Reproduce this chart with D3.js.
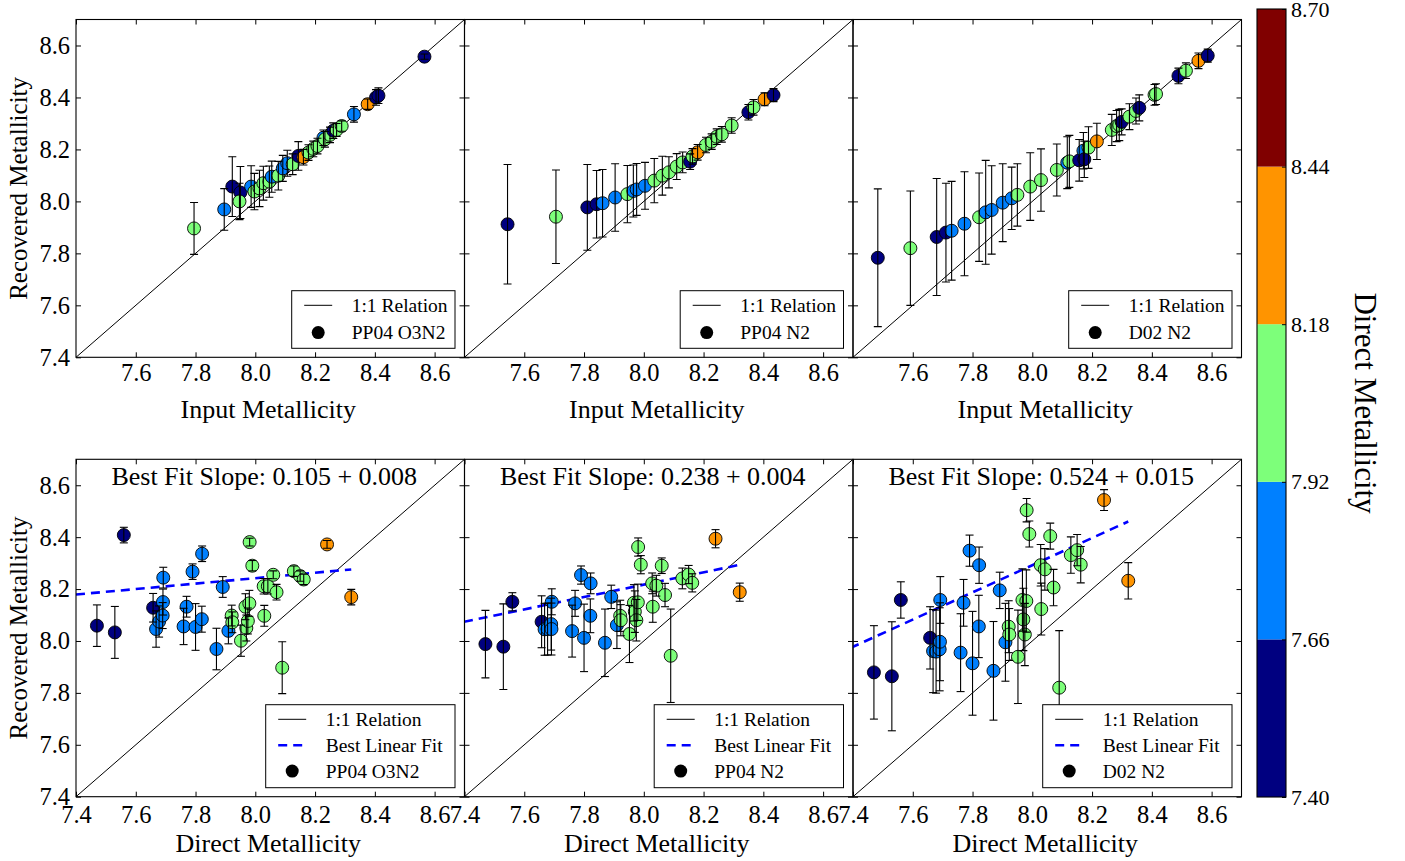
<!DOCTYPE html>
<html>
<head>
<meta charset="utf-8">
<script src="https://cdn.jsdelivr.net/npm/d3@7"></script>
<style>
  body { margin: 0; background: #fff; }
  svg { display: block; }
  text { font-family: "Liberation Serif", "Times New Roman", serif; fill: #000; }
</style>
</head>
<body>
<svg id="chart" width="1405" height="861"></svg>
<script>
// ---------- data ----------
// colour classes (direct metallicity bins)
const binEdges = [7.40, 7.66, 7.92, 8.18, 8.44, 8.70];
const binColors = ["#000080", "#0080ff", "#7dff7a", "#ff9400", "#800000"];

// top row: input vs recovered metallicity, coloured by direct metallicity
const inO3N2  = [7.795, 7.896, 7.923, 7.950, 7.947, 7.986, 7.997, 8.014, 8.027, 8.047, 8.055, 8.077, 8.092, 8.107, 8.125, 8.144, 8.161, 8.178, 8.194, 8.208, 8.228, 8.233, 8.250, 8.261, 8.272, 8.289, 8.330, 8.376, 8.404, 8.412, 8.566];
const outO3N2 = [7.896, 7.969, 8.057, 8.034, 8.000, 8.057, 8.038, 8.050, 8.070, 8.076, 8.095, 8.099, 8.127, 8.147, 8.143, 8.175, 8.170, 8.188, 8.202, 8.213, 8.245, 8.239, 8.256, 8.272, 8.275, 8.290, 8.335, 8.374, 8.400, 8.407, 8.557];
const errO3N2 = [0.10, 0.08, 0.115, 0.10, 0.07, 0.08, 0.07, 0.07, 0.065, 0.06, 0.06, 0.055, 0.05, 0.05, 0.04, 0.055, 0.03, 0.03, 0.03, 0.03, 0.03, 0.03, 0.03, 0.03, 0.025, 0.02, 0.03, 0.02, 0.03, 0.03, 0.01];
const zO3N2   = [8.05, 7.80, 7.50, 7.50, 8.05, 7.80, 8.05, 8.05, 8.05, 8.05, 7.80, 8.05, 7.80, 7.80, 8.05, 7.50, 8.30, 8.05, 8.05, 8.05, 7.80, 8.05, 8.05, 7.50, 8.05, 8.05, 7.80, 8.30, 7.50, 7.50, 7.50];

const inN2  = [7.544, 7.706, 7.811, 7.842, 7.862, 7.904, 7.945, 7.965, 7.976, 8.004, 8.035, 8.062, 8.084, 8.110, 8.130, 8.155, 8.163, 8.180, 8.208, 8.227, 8.244, 8.261, 8.294, 8.350, 8.367, 8.404, 8.434];
const outN2 = [7.912, 7.941, 7.977, 7.989, 7.993, 8.015, 8.028, 8.040, 8.046, 8.060, 8.080, 8.099, 8.112, 8.134, 8.150, 8.153, 8.173, 8.189, 8.217, 8.230, 8.249, 8.258, 8.292, 8.343, 8.362, 8.393, 8.409];
const errN2 = [0.23, 0.18, 0.165, 0.13, 0.13, 0.13, 0.11, 0.10, 0.10, 0.09, 0.085, 0.075, 0.06, 0.05, 0.04, 0.03, 0.03, 0.03, 0.03, 0.03, 0.03, 0.03, 0.03, 0.03, 0.03, 0.025, 0.025];
const zN2   = [7.50, 8.05, 7.50, 7.50, 7.80, 7.80, 8.05, 7.80, 7.80, 7.80, 8.05, 8.05, 8.05, 8.05, 8.05, 7.50, 8.05, 8.30, 8.05, 8.05, 8.05, 8.05, 8.05, 7.50, 8.05, 8.30, 7.50];

const inD02  = [7.483, 7.592, 7.680, 7.711, 7.730, 7.773, 7.822, 7.844, 7.864, 7.901, 7.931, 7.950, 7.993, 8.029, 8.082, 8.117, 8.124, 8.157, 8.171, 8.174, 8.188, 8.216, 8.266, 8.282, 8.291, 8.299, 8.325, 8.347, 8.358, 8.409, 8.414, 8.489, 8.514, 8.556, 8.587];
const outD02 = [7.783, 7.820, 7.863, 7.880, 7.887, 7.914, 7.939, 7.958, 7.967, 7.995, 8.012, 8.025, 8.057, 8.082, 8.121, 8.149, 8.154, 8.158, 8.195, 8.162, 8.207, 8.231, 8.275, 8.290, 8.294, 8.306, 8.326, 8.348, 8.360, 8.410, 8.413, 8.483, 8.503, 8.541, 8.561];
const errD02 = [0.265, 0.22, 0.225, 0.19, 0.19, 0.20, 0.17, 0.20, 0.17, 0.15, 0.12, 0.12, 0.13, 0.12, 0.10, 0.10, 0.10, 0.08, 0.07, 0.07, 0.08, 0.07, 0.06, 0.06, 0.06, 0.05, 0.05, 0.05, 0.05, 0.04, 0.04, 0.03, 0.03, 0.03, 0.025];
const zD02   = [7.50, 8.05, 7.50, 7.50, 7.80, 7.80, 8.05, 7.80, 7.80, 7.80, 7.80, 8.05, 8.05, 8.05, 8.05, 7.80, 8.05, 7.50, 7.80, 7.50, 8.05, 8.30, 8.05, 8.05, 8.05, 7.50, 8.05, 8.05, 7.50, 8.05, 8.05, 7.50, 8.05, 8.30, 7.50];

// bottom row: direct (Te) metallicity vs recovered metallicity
const directZ = [7.470, 7.530, 7.560, 7.658, 7.668, 7.678, 7.690, 7.691, 7.692, 7.760, 7.770, 7.790, 7.800, 7.822, 7.821, 7.870, 7.891, 7.910, 7.921, 7.923, 7.952, 7.967, 7.970, 7.975, 7.980, 7.981, 7.990, 8.028, 8.030, 8.042, 8.060, 8.071, 8.090, 8.129, 8.150, 8.162, 8.240, 8.321];
const recO3N2 = [8.059, 8.033, 8.408, 8.128, 8.046, 8.075, 8.098, 8.150, 8.244, 8.056, 8.132, 8.267, 8.054, 8.336, 8.084, 7.969, 8.208, 8.039, 8.098, 8.072, 8.001, 8.132, 8.050, 8.077, 8.145, 8.381, 8.290, 8.211, 8.097, 8.211, 8.255, 8.188, 7.897, 8.269, 8.250, 8.237, 8.372, 8.169];
const recErrO3N2 = [0.08, 0.10, 0.03, 0.055, 0.07, 0.06, 0.05, 0.05, 0.04, 0.07, 0.04, 0.03, 0.09, 0.03, 0.05, 0.08, 0.04, 0.05, 0.04, 0.04, 0.06, 0.05, 0.05, 0.05, 0.05, 0.015, 0.02, 0.03, 0.04, 0.03, 0.015, 0.03, 0.10, 0.02, 0.02, 0.02, 0.015, 0.03];
const recN2 = [7.988, 7.978, 8.151, 8.074, 8.045, 8.046, 8.065, 8.046, 8.151, 8.038, 8.145, 8.254, 8.012, 8.222, 8.097, 7.993, 8.170, 8.061, 8.097, 8.080, 8.027, 8.147, 8.113, 8.080, 8.149, 8.362, 8.294, 8.222, 8.132, 8.213, 8.290, 8.177, 7.943, 8.241, 8.256, 8.224, 8.394, 8.188];
const recErrN2 = [0.13, 0.165, 0.035, 0.10, 0.10, 0.10, 0.10, 0.10, 0.05, 0.10, 0.05, 0.035, 0.13, 0.04, 0.065, 0.13, 0.045, 0.09, 0.06, 0.06, 0.11, 0.07, 0.08, 0.08, 0.07, 0.035, 0.035, 0.04, 0.06, 0.04, 0.03, 0.045, 0.18, 0.04, 0.035, 0.035, 0.035, 0.035];
const recD02 = [7.879, 7.864, 8.158, 8.012, 7.961, 7.959, 7.968, 7.997, 8.158, 7.955, 8.147, 8.348, 7.914, 8.292, 8.056, 7.885, 8.195, 7.995, 8.055, 8.025, 7.939, 8.158, 8.083, 8.025, 8.154, 8.504, 8.412, 8.292, 8.123, 8.276, 8.404, 8.206, 7.820, 8.331, 8.350, 8.294, 8.543, 8.232];
const recErrD02 = [0.18, 0.21, 0.07, 0.12, 0.16, 0.16, 0.16, 0.15, 0.09, 0.15, 0.09, 0.06, 0.20, 0.07, 0.12, 0.19, 0.07, 0.15, 0.10, 0.10, 0.18, 0.12, 0.12, 0.12, 0.12, 0.045, 0.05, 0.08, 0.10, 0.08, 0.05, 0.07, 0.22, 0.07, 0.06, 0.07, 0.04, 0.07];

// linear fits of recovered vs direct metallicity
const fitSlopes = [0.105, 0.238, 0.524];
const fitSlopeErrs = [0.008, 0.004, 0.015];
const fitIntercepts = [7.402, 6.313, 4.100];

const calibNames = ["PP04 O3N2", "PP04 N2", "D02 N2"];
const axisTicks = [7.4, 7.6, 7.8, 8.0, 8.2, 8.4, 8.6];
const metalDomain = [7.4, 8.7];

// ---------- layout ----------
const svg = d3.select("#chart");
const panelLefts = [76, 464.5, 853];
const panelW = 388.5;
const rows = [{ top: 19.5, bottom: 357.3 }, { top: 459.3, bottom: 796.7 }];
const FONT = "'Liberation Serif', 'Times New Roman', serif";

const colorOf = d3.scaleThreshold().domain(binEdges.slice(1, -1)).range(binColors);

const topPanels = [
  { xs: inO3N2, ys: outO3N2, es: errO3N2, zs: zO3N2 },
  { xs: inN2, ys: outN2, es: errN2, zs: zN2 },
  { xs: inD02, ys: outD02, es: errD02, zs: zD02 }
];
const botRec = [recO3N2, recN2, recD02];
const botErr = [recErrO3N2, recErrN2, recErrD02];

const defs = svg.append("defs");

function drawPanel(row, col, pts, opts) {
  const left = panelLefts[col];
  const { top, bottom } = rows[row];
  const x = d3.scaleLinear().domain(metalDomain).range([left, left + panelW]);
  const y = d3.scaleLinear().domain(metalDomain).range([bottom, top]);
  const id = `clip-${row}-${col}`;
  defs.append("clipPath").attr("id", id)
    .append("rect").attr("x", left).attr("y", top).attr("width", panelW).attr("height", bottom - top);

  const g = svg.append("g");
  const plot = g.append("g").attr("clip-path", `url(#${id})`);

  // 1:1 relation
  plot.append("line")
    .attr("x1", x(metalDomain[0])).attr("y1", y(metalDomain[0]))
    .attr("x2", x(metalDomain[1])).attr("y2", y(metalDomain[1]))
    .attr("stroke", "#000").attr("stroke-width", 1);

  // best linear fit
  if (opts.fit) {
    const f = opts.fit;
    const xMax = d3.max(pts, d => d.x);
    const line = d3.line().x(d => x(d)).y(d => y(f.a + f.b * d));
    plot.append("path").datum([metalDomain[0] - 0.1, xMax])
      .attr("d", line).attr("fill", "none")
      .attr("stroke", "#0000ff").attr("stroke-width", 2.6)
      .attr("stroke-dasharray", "9,6");
  }

  // markers
  plot.selectAll("circle.pt").data(pts).join("circle")
    .attr("class", "pt")
    .attr("cx", d => x(d.x)).attr("cy", d => y(d.y)).attr("r", 6.5)
    .attr("fill", d => colorOf(d.z)).attr("stroke", "#000").attr("stroke-width", 0.9);

  // error bars
  const eb = plot.selectAll("g.eb").data(pts).join("g").attr("class", "eb")
    .attr("stroke", "#000").attr("stroke-width", 1.1);
  eb.append("line")
    .attr("x1", d => x(d.x)).attr("x2", d => x(d.x))
    .attr("y1", d => y(d.y - d.e)).attr("y2", d => y(d.y + d.e));
  eb.append("line")
    .attr("x1", d => x(d.x) - 4).attr("x2", d => x(d.x) + 4)
    .attr("y1", d => y(d.y - d.e)).attr("y2", d => y(d.y - d.e));
  eb.append("line")
    .attr("x1", d => x(d.x) - 4).attr("x2", d => x(d.x) + 4)
    .attr("y1", d => y(d.y + d.e)).attr("y2", d => y(d.y + d.e));

  // title
  if (opts.title) {
    g.append("text").attr("x", left + panelW / 2 - 6).attr("y", top + 17)
      .attr("text-anchor", "middle").attr("dominant-baseline", "central")
      .attr("font-size", 26).text(opts.title);
  }

  // legend
  const entries = opts.fit
    ? [{ t: "1:1 Relation", k: "line" }, { t: "Best Linear Fit", k: "dash" }, { t: calibNames[col], k: "dot" }]
    : [{ t: "1:1 Relation", k: "line" }, { t: calibNames[col], k: "dot" }];
  const lw = opts.fit ? 189.3 : 163.3;
  const lh = opts.fit ? 83 : 57.6;
  const lx = left + panelW - 9.5 - lw;
  const ly = bottom - 9 - lh;
  const rowGap = opts.fit ? 25.9 : 27.3;
  const lg = g.append("g");
  lg.append("rect").attr("x", lx).attr("y", ly).attr("width", lw).attr("height", lh)
    .attr("fill", "#fff").attr("stroke", "#000").attr("stroke-width", 1);
  entries.forEach((en, i) => {
    const cy = ly + 14.6 + i * rowGap;
    if (en.k === "line") {
      lg.append("line").attr("x1", lx + 12.5).attr("x2", lx + 40.5).attr("y1", cy).attr("y2", cy)
        .attr("stroke", "#000").attr("stroke-width", 1);
    } else if (en.k === "dash") {
      lg.append("line").attr("x1", lx + 12.5).attr("x2", lx + 40.5).attr("y1", cy).attr("y2", cy)
        .attr("stroke", "#0000ff").attr("stroke-width", 2.6).attr("stroke-dasharray", "9,6");
    } else {
      lg.append("circle").attr("cx", lx + 26.5).attr("cy", cy).attr("r", 6.5).attr("fill", "#000");
    }
    lg.append("text").attr("x", lx + 60).attr("y", cy).attr("dominant-baseline", "central")
      .attr("font-size", 19.5).text(en.t);
  });

  // frame
  g.append("rect").attr("x", left).attr("y", top).attr("width", panelW).attr("height", bottom - top)
    .attr("fill", "none").attr("stroke", "#000").attr("stroke-width", 1.1);

  // axes: inward ticks on all sides
  const tickStyle = sel => {
    sel.select(".domain").remove();
    sel.selectAll(".tick line").attr("stroke", "#000").attr("stroke-width", 1);
    sel.selectAll(".tick text").attr("font-family", FONT).attr("font-size", 24.5).attr("fill", "#000");
    sel.attr("font-family", FONT);
  };
  const bottomTicks = row === 0 ? axisTicks.slice(1) : axisTicks;
  g.append("g").attr("transform", `translate(0,${bottom})`)
    .call(d3.axisBottom(x).tickValues(bottomTicks).tickFormat(d3.format(".1f"))
      .tickSizeInner(-5).tickSizeOuter(0).tickPadding(row === 0 ? 6 : 8.5))
    .call(tickStyle);
  g.append("g").attr("transform", `translate(0,${top})`)
    .call(d3.axisTop(x).tickValues(axisTicks).tickFormat("").tickSizeInner(-5).tickSizeOuter(0))
    .call(tickStyle);
  g.append("g").attr("transform", `translate(${left},0)`)
    .call(d3.axisLeft(y).tickValues(axisTicks).tickFormat(col === 0 ? d3.format(".1f") : "")
      .tickSizeInner(-5).tickSizeOuter(0).tickPadding(6))
    .call(tickStyle);
  g.append("g").attr("transform", `translate(${left + panelW},0)`)
    .call(d3.axisRight(y).tickValues(axisTicks).tickFormat("").tickSizeInner(-5).tickSizeOuter(0))
    .call(tickStyle);

  // axis labels
  g.append("text").attr("x", left + panelW / 2 - 2).attr("y", row === 0 ? 409 : 843)
    .attr("text-anchor", "middle").attr("dominant-baseline", "central")
    .attr("font-size", 26).text(row === 0 ? "Input Metallicity" : "Direct Metallicity");
  if (col === 0) {
    g.append("text")
      .attr("transform", `translate(18,${(top + bottom) / 2}) rotate(-90)`)
      .attr("text-anchor", "middle").attr("dominant-baseline", "central")
      .attr("font-size", 25).text("Recovered Metallicity");
  }
}

topPanels.forEach((p, col) => {
  const pts = p.xs.map((v, i) => ({ x: v, y: p.ys[i], e: p.es[i], z: p.zs[i] }));
  drawPanel(0, col, pts, {});
});
botRec.forEach((rec, col) => {
  const pts = directZ.map((v, i) => ({ x: v, y: rec[i], e: botErr[col][i], z: v }));
  drawPanel(1, col, pts, {
    fit: { a: fitIntercepts[col], b: fitSlopes[col] },
    title: `Best Fit Slope: ${fitSlopes[col].toFixed(3)} + ${fitSlopeErrs[col].toFixed(3)}`
  });
});

// ---------- colour bar ----------
const cbX = 1257, cbW = 29, cbTop = 9, cbBottom = 797;
const cy = d3.scaleLinear().domain(metalDomain).range([cbBottom, cbTop]);
const cb = svg.append("g");
cb.selectAll("rect.bin").data(binColors).join("rect").attr("class", "bin")
  .attr("x", cbX).attr("width", cbW)
  .attr("y", (c, i) => cy(binEdges[i + 1])).attr("height", (c, i) => cy(binEdges[i]) - cy(binEdges[i + 1]))
  .attr("fill", c => c);
cb.append("rect").attr("x", cbX).attr("y", cbTop).attr("width", cbW).attr("height", cbBottom - cbTop)
  .attr("fill", "none").attr("stroke", "#000").attr("stroke-width", 1.1);
cb.append("g").attr("transform", `translate(${cbX + cbW},0)`)
  .call(d3.axisRight(cy).tickValues(binEdges).tickFormat(d3.format(".2f"))
    .tickSizeInner(-4).tickSizeOuter(0).tickPadding(5))
  .call(sel => {
    sel.select(".domain").remove();
    sel.selectAll(".tick line").attr("stroke", "#000");
    sel.selectAll(".tick text").attr("font-family", FONT).attr("font-size", 22).attr("fill", "#000");
  });
cb.append("text")
  .attr("transform", `translate(1365,403) rotate(90)`)
  .attr("text-anchor", "middle").attr("dominant-baseline", "central")
  .attr("font-size", 31).text("Direct Metallicity");
</script>
</body>
</html>
